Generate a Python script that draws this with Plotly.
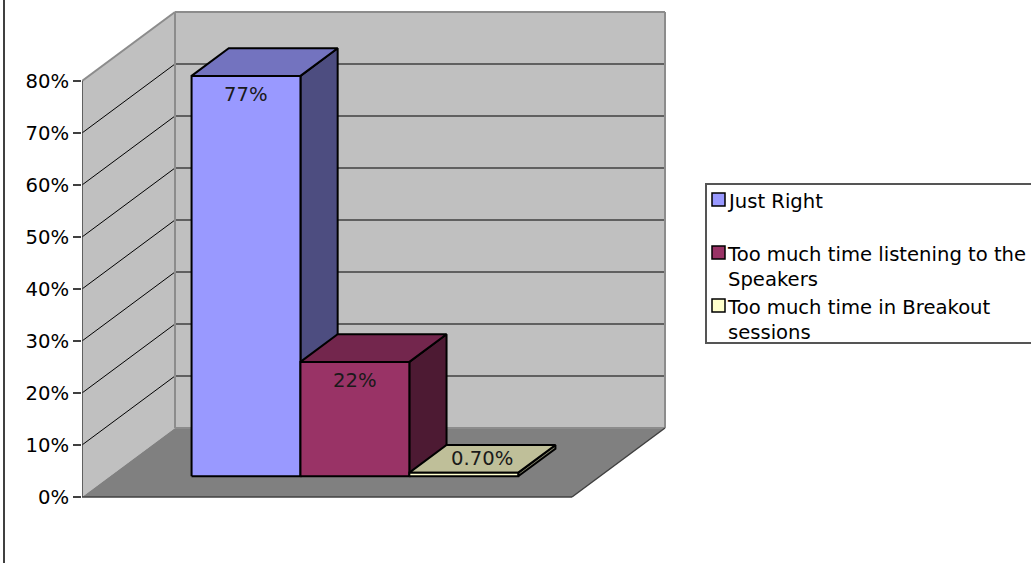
import plotly.graph_objects as go

# ---- data -------------------------------------------------------------
series_names = [
    "Just Right",
    "Too much time listening to the<br>Speakers",
    "Too much time in Breakout<br>sessions",
]
values = [77, 22, 0.7]
value_labels = ["77%", "22%", "0.70%"]
y_ticks = [0, 10, 20, 30, 40, 50, 60, 70, 80]
y_tick_text = ["0%", "10%", "20%", "30%", "40%", "50%", "60%", "70%", "80%"]

# ---- styling ------------------------------------------------------------
front_colors = ["#9999FF", "#993366", "#FFFFCC"]
top_colors = ["#7373BF", "#73264D", "#BFBF99"]
side_colors = ["#4D4D80", "#4D1A33", "#80806A"]
WALL = "#C0C0C0"
FLOOR = "#808080"
FONT = "DejaVu Sans"
FS = 19.6

# ---- page / projection geometry ------------------------------------------
W, H = 1031, 563
ML = 82                 # left margin: the value axis sits here
PX_PER_CAT = 490        # width of the (single) category on the front plane
PX_PER_PCT = 5.2        # vertical pixels per percentage point
ZERO_PX = 497           # pixel row of 0% on the front plane
Y_MIN = -(H - ZERO_PX) / PX_PER_PCT
Y_MAX = Y_MIN + H / PX_PER_PCT
X_MAX = (W - ML) / PX_PER_CAT
DEPTH_X = 93 / PX_PER_CAT   # oblique depth shift, in category units
DEPTH_Y = 69 / PX_PER_PCT   # oblique depth shift, in percent units
WALL_TOP = 80
GAP_WIDTH = 1.5             # 150% gap, shared half on each side
BAR_D0, BAR_D1 = 0.3, 0.7   # front/back depth of the columns (gap depth 150%)


def proj(x, v, d):
    """Oblique projection of (category x, value v, depth d) into axis units."""
    return x + d * DEPTH_X, v + d * DEPTH_Y


def path(points):
    return "M " + " L ".join(f"{x},{y}" for x, y in points) + " Z"


def xp(px):
    return (px - ML) / (W - ML)


def yp(py):
    return 1 - py / H


shapes = []

# walls and floor
floor = [proj(0, 0, 0), proj(1, 0, 0), proj(1, 0, 1), proj(0, 0, 1)]
side_wall = [proj(0, 0, 0), proj(0, WALL_TOP, 0), proj(0, WALL_TOP, 1), proj(0, 0, 1)]
back_wall = [proj(0, 0, 1), proj(1, 0, 1), proj(1, WALL_TOP, 1), proj(0, WALL_TOP, 1)]
for poly, col in ((side_wall, WALL), (back_wall, WALL), (floor, FLOOR)):
    shapes.append(dict(type="path", xref="x", yref="y", path=path(poly),
                       fillcolor=col, line=dict(width=0), layer="below"))

# gridlines across the side and back walls
for t in y_ticks[1:-1]:
    a, b, c = proj(0, t, 0), proj(0, t, 1), proj(1, t, 1)
    shapes.append(dict(type="path", xref="x", yref="y",
                       path=f"M {a[0]},{a[1]} L {b[0]},{b[1]} L {c[0]},{c[1]}",
                       line=dict(color="black", width=1), layer="below"))

# wall outlines
edge = dict(color="#8C8C8C", width=2)
for p0, p1 in (
    (proj(0, WALL_TOP, 0), proj(0, WALL_TOP, 1)),
    (proj(0, WALL_TOP, 1), proj(1, WALL_TOP, 1)),
    (proj(0, 0, 1), proj(0, WALL_TOP, 1)),
    (proj(1, 0, 1), proj(1, WALL_TOP, 1)),
    (proj(0, 0, 1), proj(1, 0, 1)),
):
    shapes.append(dict(type="line", xref="x", yref="y", x0=p0[0], y0=p0[1],
                       x1=p1[0], y1=p1[1], line=edge, layer="below"))

dark = dict(color="#404040", width=1.5)
for p0, p1 in (
    (proj(0, 0, 0), proj(0, WALL_TOP, 0)),
    (proj(0, 0, 0), proj(1, 0, 0)),
    (proj(1, 0, 0), proj(1, 0, 1)),
):
    shapes.append(dict(type="line", xref="x", yref="y", x0=p0[0], y0=p0[1],
                       x1=p1[0], y1=p1[1], line=dark, layer="below"))

# ---- columns ------------------------------------------------------------
fig = go.Figure()
bar_w = 1 / (len(values) + GAP_WIDTH)
annotations = []
for i, v in enumerate(values):
    x0 = GAP_WIDTH / 2 * bar_w + i * bar_w
    x1 = x0 + bar_w
    front = [proj(x0, 0, BAR_D0), proj(x1, 0, BAR_D0), proj(x1, v, BAR_D0), proj(x0, v, BAR_D0)]
    top = [proj(x0, v, BAR_D0), proj(x1, v, BAR_D0), proj(x1, v, BAR_D1), proj(x0, v, BAR_D1)]
    side = [proj(x1, 0, BAR_D0), proj(x1, 0, BAR_D1), proj(x1, v, BAR_D1), proj(x1, v, BAR_D0)]
    for face, col in ((side, side_colors[i]), (top, top_colors[i]), (front, front_colors[i])):
        xs = [p[0] for p in face] + [face[0][0]]
        ys = [p[1] for p in face] + [face[0][1]]
        fig.add_trace(go.Scatter(x=xs, y=ys, mode="lines", fill="toself",
                                 fillcolor=col, line=dict(color="black", width=2),
                                 hoverinfo="skip", showlegend=False))
    if v >= 10:
        lx, ly = proj((x0 + x1) / 2, v, BAR_D0)
        shift = -19
    else:
        lx, ly = proj((x0 + x1) / 2, v, (BAR_D0 + BAR_D1) / 2)
        shift = 0
    annotations.append(dict(x=lx, y=ly, xref="x", yref="y", text=value_labels[i],
                            showarrow=False, yshift=shift,
                            font=dict(family=FONT, size=FS, color="#1a1a1a")))

# ---- legend -------------------------------------------------------------
LEG_L, LEG_T, LEG_B = 706, 184, 343
shapes.append(dict(type="rect", xref="paper", yref="paper",
                   x0=xp(LEG_L), x1=xp(W + 5), y0=yp(LEG_B), y1=yp(LEG_T),
                   line=dict(color="#555555", width=2), fillcolor="white"))
for i, name in enumerate(series_names):
    top_px = 193 + 53 * i
    shapes.append(dict(type="rect", xref="paper", yref="paper",
                       x0=xp(712), x1=xp(725), y0=yp(top_px + 13), y1=yp(top_px),
                       line=dict(color="black", width=1.5), fillcolor=front_colors[i]))
    annotations.append(dict(x=xp(725), y=yp(top_px - 5), xref="paper", yref="paper",
                            xanchor="left", yanchor="top", align="left",
                            text=name, showarrow=False,
                            font=dict(family=FONT, size=FS, color="black")))

# chart-area border on the left
shapes.append(dict(type="line", xref="paper", yref="paper", x0=xp(4), x1=xp(4),
                   y0=0, y1=1, line=dict(color="#404040", width=2)))

fig.update_layout(
    width=W, height=H,
    margin=dict(l=ML, r=0, t=0, b=0),
    paper_bgcolor="white", plot_bgcolor="white",
    showlegend=False,
    font=dict(family=FONT, size=FS, color="black"),
    xaxis=dict(range=[0, X_MAX], visible=False, fixedrange=True),
    yaxis=dict(range=[Y_MIN, Y_MAX], tickvals=y_ticks, ticktext=y_tick_text,
               ticks="outside", ticklen=8, tickwidth=1.5, tickcolor="#404040",
               showgrid=False, zeroline=False, showline=False,
               tickfont=dict(family=FONT, size=FS, color="black"), fixedrange=True),
    shapes=shapes,
    annotations=annotations,
)

fig.write_html("out.html")
